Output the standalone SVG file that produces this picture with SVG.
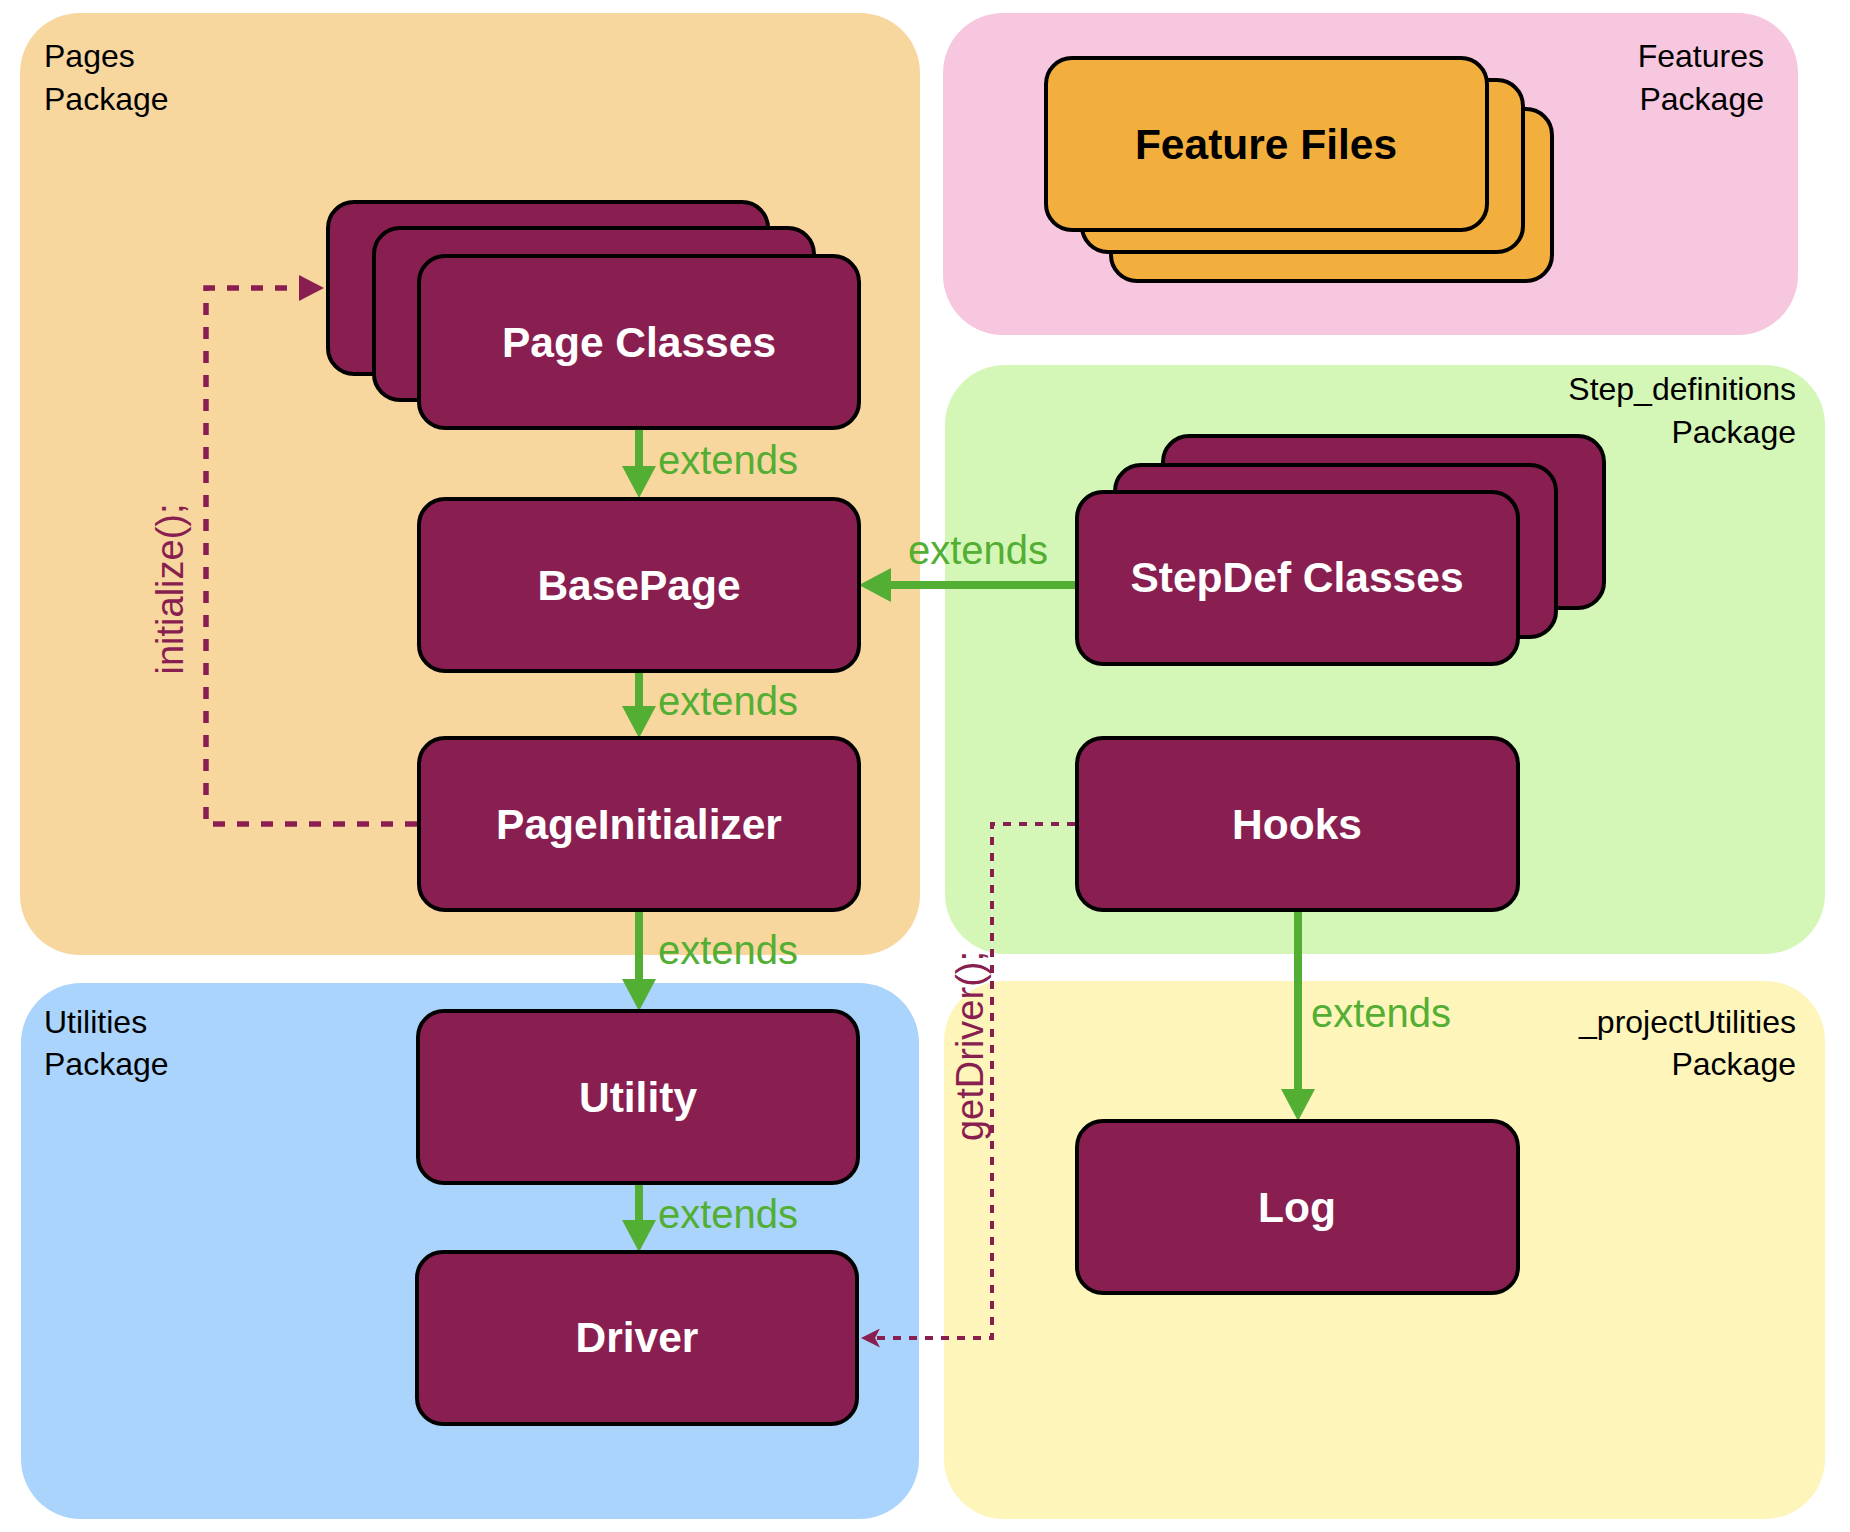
<svg xmlns="http://www.w3.org/2000/svg" width="1850" height="1532" viewBox="0 0 1850 1532">
<style>
.pkg{font-family:"Liberation Sans",Arial,Helvetica,sans-serif;font-size:32px;fill:#000}
.node{fill:#891F51;stroke:#000;stroke-width:4}
.card{fill:#F2AF3D;stroke:#000;stroke-width:4}
.nt{font-family:"Liberation Sans",Arial,Helvetica,sans-serif;font-size:42.5px;font-weight:bold;fill:#fff;text-anchor:middle}
.ext{fill:none;stroke:#53AE34;stroke-width:8}
.elab{font-family:"Liberation Sans",Arial,Helvetica,sans-serif;font-size:40px;fill:#53AE34}
.call{fill:none;stroke:#891F51}
.clab{font-family:"Liberation Sans",Arial,Helvetica,sans-serif;font-size:38px;fill:#891F51;text-anchor:middle}
</style>
<defs>
<marker id="ga" markerUnits="userSpaceOnUse" markerWidth="32" markerHeight="34" viewBox="0 0 32 34" refX="0" refY="17" orient="auto"><path d="M0,0 L32,17 L0,34 Z" fill="#53AE34"/></marker>
<marker id="ma" markerUnits="userSpaceOnUse" markerWidth="25" markerHeight="26" viewBox="0 0 25 26" refX="0" refY="13" orient="auto"><path d="M0,0 L25,13 L0,26 Z" fill="#891F51"/></marker>
<marker id="mc" markerUnits="userSpaceOnUse" markerWidth="19" markerHeight="19" viewBox="0 0 19 19" refX="5" refY="9.5" orient="auto"><path d="M0,0 L19,9.5 L0,19 L5,9.5 Z" fill="#891F51"/></marker>
</defs>
<rect width="1850" height="1532" fill="#fff"/>
<g id="pkg-pages">
<rect x="20" y="13" width="900" height="942" rx="60" fill="#F8D79F"/>
<text class="pkg" x="44" y="67">Pages</text>
<text class="pkg" x="44" y="110">Package</text>
</g>
<g id="pkg-features">
<rect x="943" y="13" width="855" height="322" rx="60" fill="#F7C6DF"/>
<text class="pkg" x="1764" y="67" text-anchor="end">Features</text>
<text class="pkg" x="1764" y="110" text-anchor="end">Package</text>
</g>
<g id="pkg-stepdefs">
<rect x="945" y="365" width="880" height="589" rx="60" fill="#D4F7B7"/>
<text class="pkg" x="1796" y="400" text-anchor="end">Step_definitions</text>
<text class="pkg" x="1796" y="443" text-anchor="end">Package</text>
</g>
<g id="pkg-utilities">
<rect x="21" y="983" width="898" height="536" rx="60" fill="#AAD4FB"/>
<text class="pkg" x="44" y="1033">Utilities</text>
<text class="pkg" x="44" y="1075">Package</text>
</g>
<g id="pkg-projectutilities">
<rect x="944" y="981" width="881" height="538" rx="60" fill="#FEF5BB"/>
<text class="pkg" x="1796" y="1033" text-anchor="end">_projectUtilities</text>
<text class="pkg" x="1796" y="1075" text-anchor="end">Package</text>
</g>
<g id="connectors">
<path class="ext" d="M639,429 V466" marker-end="url(#ga)"/>
<path class="ext" d="M639,673 V706" marker-end="url(#ga)"/>
<path class="ext" d="M639,912 V979" marker-end="url(#ga)"/>
<path class="ext" d="M639,1185 V1220" marker-end="url(#ga)"/>
<path class="ext" d="M1075,585 H891" marker-end="url(#ga)"/>
<path class="ext" d="M1298,912 V1089" marker-end="url(#ga)"/>
<text class="elab" x="658" y="474">extends</text>
<text class="elab" x="658" y="715">extends</text>
<text class="elab" x="658" y="964">extends</text>
<text class="elab" x="658" y="1228">extends</text>
<text class="elab" x="908" y="564">extends</text>
<text class="elab" x="1311" y="1027">extends</text>
<path class="call" d="M417,824 H206 V288 H299" stroke-width="5.5" stroke-dasharray="12 12" marker-end="url(#ma)"/>
<text class="clab" transform="translate(183,589) rotate(-90)">initialize();</text>
<path class="call" d="M1075,824 H992 V1338 H875" stroke-width="4" stroke-dasharray="8 8" marker-end="url(#mc)"/>
<text class="clab" transform="translate(983,1046) rotate(-90)">getDriver();</text>
</g>
<g id="node-featurefiles">
<rect class="card" x="1111" y="109" width="441" height="172" rx="26"/>
<rect class="card" x="1082" y="80" width="441" height="172" rx="26"/>
<rect class="card" x="1046" y="58" width="441" height="172" rx="26"/>
<text class="nt" x="1266" y="159" style="fill:#000">Feature Files</text>
</g>
<g id="node-pageclasses">
<rect class="node" x="328" y="202" width="440" height="172" rx="26"/>
<rect class="node" x="374" y="228" width="440" height="172" rx="26"/>
<rect class="node" x="419" y="256" width="440" height="172" rx="26"/>
<text class="nt" x="639" y="357">Page Classes</text>
</g>
<g id="node-basepage">
<rect class="node" x="419" y="499" width="440" height="172" rx="26"/>
<text class="nt" x="639" y="600">BasePage</text>
</g>
<g id="node-pageinitializer">
<rect class="node" x="419" y="738" width="440" height="172" rx="26"/>
<text class="nt" x="639" y="839">PageInitializer</text>
</g>
<g id="node-utility">
<rect class="node" x="418" y="1011" width="440" height="172" rx="26"/>
<text class="nt" x="638" y="1112">Utility</text>
</g>
<g id="node-driver">
<rect class="node" x="417" y="1252" width="440" height="172" rx="26"/>
<text class="nt" x="637" y="1352">Driver</text>
</g>
<g id="node-stepdefclasses">
<rect class="node" x="1163" y="436" width="441" height="172" rx="26"/>
<rect class="node" x="1115" y="465" width="441" height="172" rx="26"/>
<rect class="node" x="1077" y="492" width="441" height="172" rx="26"/>
<text class="nt" x="1297" y="592">StepDef Classes</text>
</g>
<g id="node-hooks">
<rect class="node" x="1077" y="738" width="441" height="172" rx="26"/>
<text class="nt" x="1297" y="839">Hooks</text>
</g>
<g id="node-log">
<rect class="node" x="1077" y="1121" width="441" height="172" rx="26"/>
<text class="nt" x="1297" y="1222">Log</text>
</g>
</svg>
